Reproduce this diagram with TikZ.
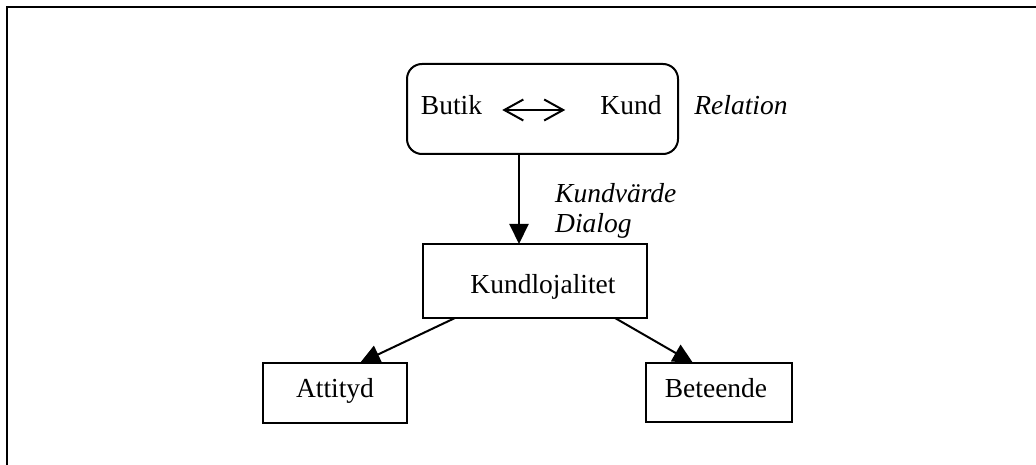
\documentclass[tikz,border=0pt]{standalone}
\usepackage{fontspec}
\setmainfont{Liberation Serif}
\usetikzlibrary{arrows.meta}
\begin{document}
\begin{tikzpicture}[x=1pt,y=-1pt,
  box/.style={draw, line width=2pt, inner sep=0pt, outer sep=0pt, fill=white},
  lbl/.style={inner sep=0pt, anchor=base, font=\fontsize{27.5}{30}\selectfont},
  ital/.style={lbl, font=\fontsize{27.5}{30}\selectfont\itshape},
  conn/.style={line width=2pt, -{Triangle[length=20pt,width=19pt]}},
  dbl/.style={line width=2pt, {Straight Barb[length=19pt,width=21pt]}-{Straight Barb[length=19pt,width=21pt]}}]
\useasboundingbox (0,0) rectangle (1036,465);
% frame (top and left only)
\coordinate (fa) at (7,465);
\coordinate (fb) at (7,7);
\coordinate (fc) at (1036,7);
\draw[line width=2pt] (fa) -- (fb) -- (fc);
% relation box
\node[box, rounded corners=15pt, minimum width=271pt, minimum height=90pt] (rel) at (542.5,109) {};
\node[lbl] (butik) at (451.5,115) {Butik};
\node[lbl] (kund) at (631,115) {Kund};
\draw[dbl] ([xshift=20pt,yshift=5pt]butik.base east) -- ([xshift=-35pt,yshift=5pt]kund.base west);
\node[ital] (relation) at (741,115) {Relation};
% labels on the vertical arrow
\node[ital, anchor=base west] (kv) at (555,203) {Kundvärde};
\node[ital, anchor=base west] (dia) at (555,233) {Dialog};
% Kundlojalitet
\node[box, minimum width=224pt, minimum height=74pt] (kl) at (535,281) {};
\node[lbl] (klt) at (543,293) {Kundlojalitet};
% Attityd and Beteende
\node[box, minimum width=144pt, minimum height=60pt] (att) at (335,393) {};
\node[lbl] (attt) at (335,397) {Attityd};
\node[box, minimum width=146pt, minimum height=59pt] (bet) at (719,392.5) {};
\node[lbl] (bett) at (716,397) {Beteende};
% connectors
\draw[conn] ([xshift=-23.5pt]rel.south) -- ([xshift=-16pt]kl.north);
\draw[conn] ([xshift=-80pt]kl.south) -- ([xshift=25pt]att.north);
\draw[conn] ([xshift=80pt]kl.south) -- ([xshift=-26pt]bet.north);
\end{tikzpicture}
\end{document}
